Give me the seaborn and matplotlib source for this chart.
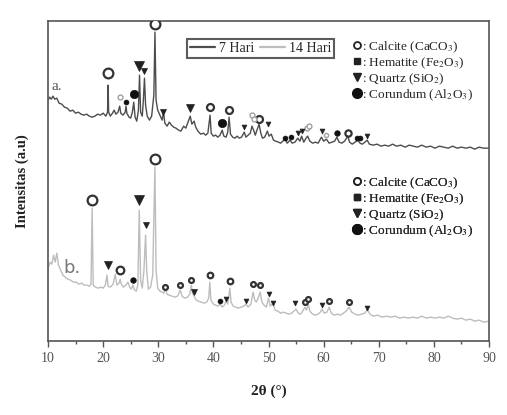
import numpy as np
import matplotlib
matplotlib.use("Agg")
import matplotlib.pyplot as plt
import seaborn as sns
from matplotlib.lines import Line2D

# data diffraktogram, intensitas dalam satuan sembarang
two_theta_a = [10.0, 10.3, 10.6, 10.9, 11.2, 11.6, 12.0, 12.5, 13.0, 13.5, 14.0, 14.5, 15.0, 15.5, 16.0, 16.5,
               17.0, 17.5, 18.0, 18.5, 19.0, 19.5, 20.0, 20.5, 20.8, 20.9, 21.0, 21.3, 21.7, 22.0, 22.3, 22.7,
               23.0, 23.2, 23.6, 24.0, 24.15, 24.3, 24.7, 25.0, 25.3, 25.55, 25.8, 26.1, 26.4, 26.6, 26.8, 27.1,
               27.3, 27.5, 27.7, 28.0, 28.4, 28.8, 29.2, 29.4, 29.6, 29.9, 30.3, 30.7, 30.95, 31.2, 31.6, 32.0,
               32.4, 32.8, 33.2, 33.7, 34.1, 34.6, 35.0, 35.4, 35.8, 36.1, 36.5, 36.8, 37.2, 37.7, 38.2, 38.6,
               39.0, 39.4, 39.6, 40.0, 40.4, 40.8, 41.2, 41.6, 41.9, 42.3, 42.6, 42.85, 43.1, 43.5, 43.9, 44.3,
               44.7, 45.1, 45.6, 45.9, 46.3, 46.7, 47.0, 47.3, 47.6, 47.9, 48.3, 48.6, 48.9, 49.3, 49.8, 50.1,
               50.5, 50.9, 51.3, 51.8, 52.2, 52.6, 53.0, 53.4, 53.9, 54.3, 54.8, 55.3, 55.7, 56.0, 56.4, 56.8,
               57.1, 57.5, 58.0, 58.5, 59.0, 59.6, 60.0, 60.5, 61.0, 61.5, 62.0, 62.4, 62.8, 63.3, 63.8, 64.4,
               64.7, 65.2, 65.7, 66.2, 66.6, 67.0, 67.5, 67.9, 68.3, 69.0, 69.7, 70.4, 71.1, 71.8, 72.5, 73.2,
               74.0, 74.8, 75.5, 76.3, 77.0, 77.8, 78.6, 79.4, 80.2, 81.0, 81.8, 82.6, 83.4, 84.2, 85.0, 85.8,
               86.6, 87.4, 88.2, 89.0, 90.0]
intensity_a = [241, 244, 242, 245, 242, 243, 238, 237, 234, 233, 230, 231, 228, 229, 227, 226,
               227, 225, 224, 225, 227, 226, 228, 225, 229, 256, 229, 225, 228, 231, 227, 229,
               235, 228, 226, 229, 235, 228, 224, 223, 229, 239, 224, 220, 231, 266, 229, 225,
               241, 263, 236, 225, 221, 225, 246, 309, 241, 231, 226, 221, 229, 218, 215, 219,
               216, 214, 213, 211, 210, 215, 213, 219, 225, 217, 220, 214, 210, 207, 208, 206,
               208, 226, 208, 205, 206, 204, 206, 211, 205, 204, 209, 224, 207, 204, 203, 205,
               203, 204, 209, 204, 206, 208, 215, 211, 206, 211, 217, 208, 203, 204, 210, 205,
               207, 201, 200, 199, 198, 200, 202, 198, 201, 198, 199, 203, 200, 205, 199, 203,
               205, 200, 198, 199, 198, 204, 200, 202, 198, 199, 200, 204, 199, 198, 200, 205,
               199, 197, 199, 201, 198, 197, 199, 201, 197, 196, 197, 195, 196, 195, 197, 195,
               196, 194, 196, 195, 194, 196, 194, 195, 193, 195, 194, 193, 195, 193, 194, 193,
               194, 192, 194, 193, 193]

two_theta_b = [10.0, 10.4, 10.7, 11.0, 11.3, 11.6, 11.9, 12.3, 12.7, 13.1, 13.6, 14.1, 14.6, 15.1, 15.6, 16.1,
               16.6, 17.1, 17.5, 17.8, 18.0, 18.2, 18.6, 19.1, 19.6, 20.0, 20.4, 20.7, 20.9, 21.3, 21.8, 22.2,
               22.5, 22.9, 23.1, 23.3, 23.7, 24.1, 24.5, 24.8, 25.1, 25.4, 25.7, 26.0, 26.3, 26.55, 26.8, 27.1,
               27.4, 27.7, 27.9, 28.2, 28.6, 29.0, 29.2, 29.4, 29.6, 29.9, 30.3, 30.7, 31.0, 31.3, 31.6, 32.0,
               32.5, 33.0, 33.5, 34.0, 34.3, 34.8, 35.3, 35.7, 36.0, 36.2, 36.5, 36.9, 37.3, 37.8, 38.3, 38.8,
               39.15, 39.35, 39.55, 40.0, 40.4, 40.8, 41.2, 41.6, 42.0, 42.3, 42.6, 43.0, 43.2, 43.6, 44.0, 44.5,
               45.0, 45.5, 45.9, 46.3, 46.8, 47.2, 47.5, 47.8, 48.1, 48.5, 48.8, 49.2, 49.6, 50.0, 50.3, 50.8,
               51.2, 51.7, 52.2, 52.7, 53.2, 53.7, 54.2, 54.6, 55.0, 55.4, 55.8, 56.2, 56.6, 56.9, 57.2, 57.5,
               58.0, 58.5, 59.0, 59.4, 59.7, 60.1, 60.6, 61.0, 61.4, 61.9, 62.5, 63.1, 63.6, 64.1, 64.6, 65.1,
               65.7, 66.3, 66.9, 67.5, 67.9, 68.4, 69.0, 69.8, 70.6, 71.4, 72.2, 73.0, 73.8, 74.6, 75.4, 76.2,
               77.0, 77.8, 78.6, 79.4, 80.2, 81.0, 81.8, 82.6, 83.4, 84.2, 85.0, 85.8, 86.6, 87.4, 88.2, 89.0,
               90.0]
intensity_b = [73, 79, 77, 86, 79, 88, 76, 71, 66, 64, 62, 61, 59, 59, 57, 58,
               56, 56, 55, 57, 133, 56, 54, 53, 54, 53, 56, 66, 55, 54, 57, 67,
               56, 58, 62, 57, 54, 56, 59, 54, 52, 56, 51, 50, 56, 131, 61, 53,
               71, 106, 71, 52, 54, 66, 124, 174, 71, 53, 50, 49, 48, 52, 47, 46,
               45, 44, 45, 51, 45, 43, 44, 47, 56, 48, 45, 41, 40, 39, 38, 39,
               43, 59, 41, 37, 36, 35, 37, 34, 36, 40, 37, 53, 39, 35, 34, 33,
               34, 35, 37, 34, 37, 49, 41, 39, 43, 49, 39, 36, 34, 43, 35, 38,
               31, 30, 28, 29, 28, 27, 28, 30, 32, 28, 27, 30, 34, 31, 37, 30,
               27, 26, 27, 29, 32, 28, 29, 34, 28, 26, 27, 26, 28, 30, 34, 29,
               27, 26, 27, 28, 32, 27, 25, 26, 24, 25, 24, 25, 23, 24, 23, 24,
               23, 25, 23, 24, 23, 24, 23, 25, 23, 22, 23, 21, 22, 20, 21, 19,
               20]

# penanda fasa: (2theta, tinggi penanda, ukuran)
calcite_a = [(20.9, 268, 7), (29.4, 317, 7), (39.3, 234, 5), (42.9, 231, 5), (48.3, 222, 5), (64.5, 208, 4.5)]
calcite_a_gray = [(23.0, 244, 3.5), (47.0, 226, 3.5), (47.3, 222, 3.5), (57.0, 213, 3.5), (57.3, 215, 3.5),
                  (60.5, 206, 3)]
quartz_a = [(26.5, 275, 7), (27.4, 270, 4.5), (30.9, 229, 5), (35.8, 233, 5.5), (45.6, 214, 3.5),
            (49.9, 217, 3.5), (55.4, 208, 3.5), (56.1, 210, 3.5), (59.7, 210, 3.5), (67.9, 205, 3.5)]
corundum_a = [(25.6, 247, 6), (41.6, 218, 6), (24.1, 239, 3.5), (53.0, 203, 3.5), (54.0, 204, 3.5),
              (62.4, 208, 4), (66.0, 203, 3.5), (66.6, 203, 3.5)]

calcite_b = [(18.0, 141, 7), (29.4, 182, 7), (23.1, 71, 5.5), (31.2, 54, 3.5), (34.0, 56, 3.5), (36.0, 61, 3.5),
             (39.4, 66, 4), (43.0, 60, 4), (47.2, 57, 3.5), (48.5, 56, 3.5), (56.6, 39, 3.5), (57.2, 42, 3.5),
             (61.0, 40, 3.5), (64.6, 39, 3.5)]
quartz_b = [(26.5, 141, 7.5), (20.8, 76, 5.5), (27.8, 116, 5), (36.5, 49, 4), (42.3, 42, 3.5), (45.9, 40, 3.5),
            (50.1, 47, 3.5), (50.8, 38, 3.5), (54.8, 38, 3.5), (59.7, 36, 3.5), (67.9, 33, 3.5)]
corundum_b = [(25.4, 61, 4), (41.2, 40, 3.5)]

fasa_label = [": Calcite (CaCO$_3$)", ": Hematite (Fe$_2$O$_3$)", ": Quartz (SiO$_2$)", ": Corundum (Al$_2$O$_3$)"]

sns.set_style("ticks")
plt.rcParams['font.family'] = ['Liberation Serif', 'DejaVu Serif']
plt.rcParams['mathtext.fontset'] = 'stix'

fig = plt.figure(figsize=(5.07, 4.15), dpi=100)
ax = fig.add_axes([0.0947, 0.178, 0.8698, 0.771])

warna_a = '#4d4d4d'
warna_b = '#bdbdbd'
sns.lineplot(x=two_theta_a, y=intensity_a, ax=ax, color=warna_a, lw=1.0, sort=False, estimator=None)
sns.lineplot(x=two_theta_b, y=intensity_b, ax=ax, color=warna_b, lw=1.0, sort=False, estimator=None)


def gambar_penanda(data, marker, fill, edge, ew):
    for x, y, s in data:
        ax.plot([x], [y], linestyle='none', marker=marker, markersize=s,
                markerfacecolor=fill, markeredgecolor=edge, markeredgewidth=ew, zorder=5)


gambar_penanda(calcite_a, 'o', 'white', '#333333', 1.6)
gambar_penanda(calcite_a_gray, 'o', 'white', '#a0a0a0', 1.0)
gambar_penanda(quartz_a, 'v', '#222222', '#222222', 0.5)
gambar_penanda(corundum_a, 'o', '#111111', '#111111', 0.5)
gambar_penanda(calcite_b, 'o', 'white', '#333333', 1.6)
gambar_penanda(quartz_b, 'v', '#222222', '#222222', 0.5)
gambar_penanda(corundum_b, 'o', '#111111', '#111111', 0.5)

ax.set_xlim(10, 90)
ax.set_ylim(0, 320)
ax.set_xticks(np.arange(10, 91, 10))
ax.set_xticks(np.arange(15, 90, 10), minor=True)
ax.set_yticks([])
ax.tick_params(axis='x', which='major', direction='out', length=4, width=1, colors='#555555',
               labelsize=10, pad=4)
ax.tick_params(axis='x', which='minor', direction='out', length=2.5, width=1, colors='#555555')
for sp in ax.spines.values():
    sp.set_visible(True)
    sp.set_color('#555555')
    sp.set_linewidth(1.2)

ax.set_xlabel("2θ (°)", fontsize=11, fontweight='bold', color='#222222', labelpad=14)
ax.set_ylabel("Intensitas (a.u)", fontsize=10.5, fontweight='bold', color='#222222', labelpad=14)

ax.text(10.6, 255, "a.", fontsize=11, color='#555555', va='center')
ax.text(12.8, 73, "b.", fontsize=13, color='#777777', va='center', family=['DejaVu Sans'])

# legenda waktu
h_waktu = [Line2D([], [], color=warna_a, lw=1.6), Line2D([], [], color=warna_b, lw=1.6)]
leg1 = ax.legend(h_waktu, ["7 Hari", "14 Hari"], ncol=2, loc='upper left', bbox_to_anchor=(0.315, 0.944),
                 borderaxespad=0, fontsize=10, frameon=True, fancybox=False, handlelength=1.8,
                 handletextpad=0.3, columnspacing=0.4, borderpad=0.2, edgecolor='#333333')
leg1.get_frame().set_linewidth(1.5)
ax.add_artist(leg1)

# legenda fasa
h_fasa = [Line2D([], [], ls='none', marker='o', markersize=5, mfc='white', mec='#222222', mew=1.3),
          Line2D([], [], ls='none', marker='s', markersize=5, mfc='#222222', mec='#222222'),
          Line2D([], [], ls='none', marker='v', markersize=6, mfc='#222222', mec='#222222'),
          Line2D([], [], ls='none', marker='o', markersize=7, mfc='#111111', mec='#111111')]
for anchor in [(0.692, 0.944), (0.692, 0.519)]:
    lg = ax.legend(h_fasa, fasa_label, loc='upper left', bbox_to_anchor=anchor, fontsize=9.5,
                   frameon=False, handlelength=0.6, handletextpad=0.1, labelspacing=0.05, borderpad=0,
                   borderaxespad=0)
    ax.add_artist(lg)

fig.savefig("out.png", dpi=100)
